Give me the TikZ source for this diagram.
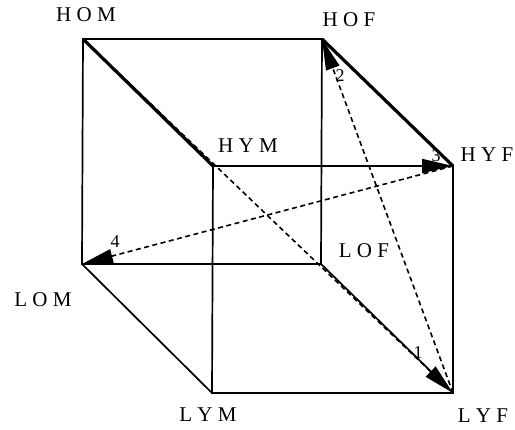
\documentclass[tikz,border=0pt]{standalone}
\usepackage{fontspec}
\setmainfont{Liberation Serif}
\usetikzlibrary{arrows.meta}

\begin{document}
\begin{tikzpicture}[x=1pt, y=-1pt,
  edge/.style={line width=1.7pt},
  heavy/.style={line width=3.2pt},
  move/.style={line width=1.6pt, dash pattern=on 5pt off 3.5pt, -{Triangle[length=31pt, width=14pt]}},
  vlab/.style={inner sep=0pt, font=\fontsize{21}{24}\selectfont},
  num/.style={inner sep=0pt, font=\fontsize{18}{20}\selectfont}
]
  \useasboundingbox (0,0) rectangle (515,430);

  % corners of the cube
  \coordinate (HOM) at (83,39);
  \coordinate (HOF) at (322,39);
  \coordinate (HYM) at (213,166);
  \coordinate (HYF) at (453,166);
  \coordinate (LOM) at (82,264);
  \coordinate (LOF) at (321,264);
  \coordinate (LYM) at (212,393);
  \coordinate (LYF) at (453,393);

  % corner names
  \node[vlab] (tHOM) at (86,15) {H O M};
  \node[vlab] (tHOF) at (349,20) {H O F};
  \node[vlab] (tHYM) at (248,146) {H Y M};
  \node[vlab] (tHYF) at (487,155) {H Y F};
  \node[vlab] (tLOM) at (43,300) {L O M};
  \node[vlab] (tLOF) at (364,251) {L O F};
  \node[vlab] (tLYM) at (208,415) {L Y M};
  \node[vlab] (tLYF) at (483,416) {L Y F};

  % edges
  \draw[edge] (HOM) -- (HOF) -- (LOF) -- (LOM) -- cycle;
  \draw[edge] (HYM) -- (HYF) -- (LYF) -- (LYM) -- cycle;
  \draw[edge] (LOM) -- (LYM);
  \draw[edge] (LOF) -- (LYF);
  \draw[heavy] (HOM) -- (HYM);
  \draw[heavy] (HOF) -- (HYF);

  % moves
  \draw[move] (HOM) -- (LYF);
  \draw[move] (LYF) -- (HOF);
  \draw[move] (HYM) -- (HYF);
  \draw[move] (HYF) -- (LOM);

  \node[num] (n1) at (418,353) {1};
  \node[num] (n2) at (340,76) {2};
  \node[num] (n3) at (436,156) {3};
  \node[num] (n4) at (115,242) {4};
\end{tikzpicture}
\end{document}
